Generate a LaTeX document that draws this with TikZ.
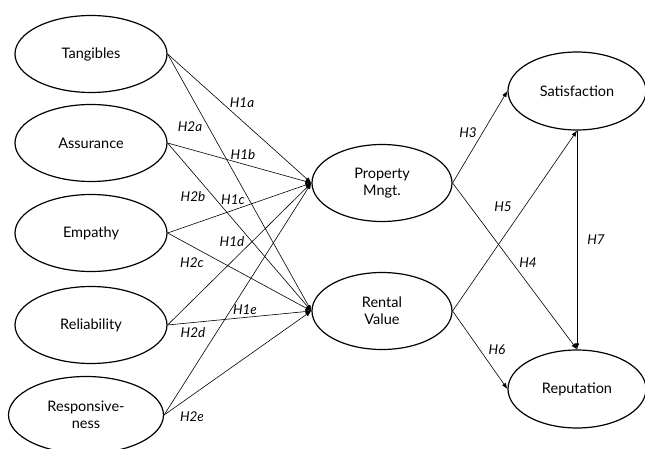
\documentclass[tikz,border=0pt]{standalone}
\usepackage{fontspec}
\setmainfont{Lato}
\usetikzlibrary{shapes.geometric,arrows.meta}
\begin{document}
\begin{tikzpicture}[x=1pt,y=-1pt,
 lat/.style={ellipse,draw,line width=1.2pt,minimum width=152pt,minimum height=77pt,inner sep=0pt,align=center,font=\fontsize{14.5}{17}\selectfont},
 med/.style={lat,minimum width=140pt,minimum height=77pt},
 hyp/.style={-{Latex[length=6pt,width=4.5pt]},line width=0.6pt},
 hl/.style={font=\itshape\fontsize{13.5}{15}\selectfont,inner sep=0pt}]
\useasboundingbox (0,0) rectangle (645,449);
\node[lat] (tang) at (91,54) {Tangibles};
\node[lat] (assu) at (91,143) {Assurance};
\node[lat] (empa) at (91,233) {Empathy};
\node[lat] (reli) at (91,325) {Reliability};
\node[lat,minimum width=155pt] (resp) at (86,415) {Responsive-\\ness};
\node[med] (prop) at (382,183) {Property\\Mngt.};
\node[med] (rent) at (382,311) {Rental\\Value};
\node[med,minimum width=138pt,minimum height=78pt] (sat) at (577,91) {Satisfaction};
\node[med,minimum width=138pt,minimum height=78pt] (rep) at (577,389) {Reputation};
\foreach \s in {tang,assu,empa,reli,resp}{
  \draw[hyp] (\s.east) -- (prop.west);
  \draw[hyp] (\s.east) -- (rent.west);
}
\draw[hyp] (prop.east) -- (sat.west);
\draw[hyp] (prop.east) -- (rep.north);
\draw[hyp] (rent.east) -- (sat.south);
\draw[hyp] (rent.east) -- (rep.west);
\draw[hyp] (sat.south) -- (rep.north);
\node[hl] (h1a) at (242,103) {H1a};
\node[hl] (h2a) at (190,127) {H2a};
\node[hl] (h1b) at (243,155) {H1b};
\node[hl] (h2b) at (193,197) {H2b};
\node[hl] (h1c) at (233,200) {H1c};
\node[hl] (h1d) at (232,242) {H1d};
\node[hl] (h2c) at (192,263) {H2c};
\node[hl] (h1e) at (245,310) {H1e};
\node[hl] (h2d) at (193,333) {H2d};
\node[hl] (h2e) at (192,417) {H2e};
\node[hl] (h3) at (468,133) {H3};
\node[hl] (h5) at (503,207) {H5};
\node[hl] (h4) at (528,263) {H4};
\node[hl] (h7) at (596,240) {H7};
\node[hl] (h6) at (497,350) {H6};
\end{tikzpicture}
\end{document}
